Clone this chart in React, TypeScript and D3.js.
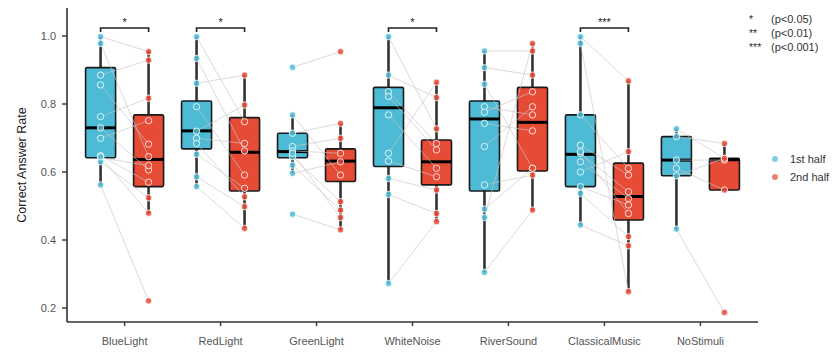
import * as d3 from "d3";

const categories = [
  "BlueLight",
  "RedLight",
  "GreenLight",
  "WhiteNoise",
  "RiverSound",
  "ClassicalMusic",
  "NoStimuli",
];

const halves = ["1st half", "2nd half"];

// per participant, paired by index
const firstHalf = [
  [0.998, 0.978, 0.885, 0.856, 0.763, 0.73, 0.699, 0.648, 0.642, 0.63, 0.645, 0.562],
  [0.998, 0.934, 0.861, 0.792, 0.72, 0.699, 0.684, 0.652, 0.586, 0.557],
  [0.908, 0.768, 0.714, 0.675, 0.662, 0.645, 0.596, 0.62, 0.655, 0.476],
  [0.998, 0.885, 0.836, 0.822, 0.768, 0.655, 0.632, 0.581, 0.534, 0.272],
  [0.956, 0.907, 0.858, 0.792, 0.776, 0.743, 0.675, 0.562, 0.491, 0.466, 0.305],
  [0.998, 0.978, 0.768, 0.679, 0.655, 0.63, 0.557, 0.537, 0.444, 0.66, 0.6],
  [0.727, 0.704, 0.635, 0.611, 0.589, 0.432],
];
const secondHalf = [
  [0.954, 0.645, 0.929, 0.682, 0.817, 0.606, 0.751, 0.57, 0.619, 0.524, 0.479, 0.221],
  [0.748, 0.662, 0.885, 0.591, 0.797, 0.684, 0.527, 0.552, 0.498, 0.434],
  [0.954, 0.591, 0.743, 0.699, 0.655, 0.513, 0.63, 0.488, 0.466, 0.43],
  [0.727, 0.819, 0.684, 0.665, 0.611, 0.864, 0.586, 0.547, 0.478, 0.454],
  [0.956, 0.885, 0.611, 0.768, 0.836, 0.721, 0.792, 0.591, 0.611, 0.978, 0.488],
  [0.868, 0.248, 0.611, 0.591, 0.542, 0.522, 0.503, 0.41, 0.383, 0.478, 0.66],
  [0.64, 0.684, 0.635, 0.547, 0.64, 0.187],
];

// [whisker low, q1, median, q3, whisker high]
const firstBox = [
  [0.562, 0.642, 0.73, 0.907, 0.998],
  [0.557, 0.668, 0.721, 0.809, 0.998],
  [0.596, 0.642, 0.66, 0.714, 0.768],
  [0.272, 0.616, 0.789, 0.849, 0.998],
  [0.305, 0.544, 0.756, 0.809, 0.956],
  [0.444, 0.557, 0.652, 0.768, 0.998],
  [0.432, 0.589, 0.635, 0.704, 0.727],
];
const secondBox = [
  [0.478, 0.557, 0.637, 0.768, 0.956],
  [0.434, 0.544, 0.658, 0.76, 0.885],
  [0.43, 0.572, 0.632, 0.668, 0.743],
  [0.454, 0.562, 0.63, 0.694, 0.864],
  [0.488, 0.603, 0.746, 0.849, 0.978],
  [0.248, 0.459, 0.528, 0.626, 0.868],
  [0.547, 0.547, 0.636, 0.64, 0.684],
];

const sigCategories = ["BlueLight", "RedLight", "WhiteNoise", "ClassicalMusic"];
const sigMarks = ["*", "*", "*", "***"];

const sigLegendMarks = ["*", "**", "***"];
const sigLegendText = ["(p<0.05)", "(p<0.01)", "(p<0.001)"];

const yTicks = [0.2, 0.4, 0.6, 0.8, 1.0];

const colors = ["#4DBBD5", "#E64B35"];

const W = 840;
const H = 354;
const left = 67;
const right = 758;
const top = 8;
const bottom = 322;
const dodge = 24;
const boxW = 30;
const font = "'Liberation Sans', Arial, sans-serif";

export default function App() {
  const x = d3.scalePoint<string>().domain(categories).range([left, right]).padding(0.6);
  const y = d3.scaleLinear().domain([0.2, 1.0]).range([308, 36]);

  const groups = [
    { vals: firstHalf, box: firstBox, off: -dodge, color: colors[0] },
    { vals: secondHalf, box: secondBox, off: dodge, color: colors[1] },
  ];

  return (
    <svg
      width={W}
      height={H}
      style={{ position: "absolute", left: 0, top: 0, background: "#fff" }}
      fontFamily={font}
    >
      {/* boxes */}
      {groups.map((g, gi) =>
        categories.map((c, i) => {
          const [lo, q1, med, q3, hi] = g.box[i];
          const cx = x(c)! + g.off;
          return (
            <g key={`b${gi}-${i}`}>
              <line x1={cx} x2={cx} y1={y(hi)} y2={y(q3)} stroke="#333" strokeWidth={2.6} />
              <line x1={cx} x2={cx} y1={y(q1)} y2={y(lo)} stroke="#333" strokeWidth={2.6} />
              <rect
                x={cx - boxW / 2}
                y={y(q3)}
                width={boxW}
                height={Math.max(0.5, y(q1) - y(q3))}
                fill={g.color}
                stroke="#1a1a1a"
                strokeWidth={1.6}
                rx={1.5}
              />
              <line
                x1={cx - boxW / 2}
                x2={cx + boxW / 2}
                y1={y(med)}
                y2={y(med)}
                stroke="#000"
                strokeWidth={3}
              />
            </g>
          );
        })
      )}

      {/* paired lines */}
      {categories.map((c, i) =>
        firstHalf[i].map((v, k) => (
          <line
            key={`l${i}-${k}`}
            x1={x(c)! - dodge}
            x2={x(c)! + dodge}
            y1={y(v)}
            y2={y(secondHalf[i][k])}
            stroke="#c8c8c8"
            strokeWidth={0.8}
            opacity={0.8}
          />
        ))
      )}

      {/* points */}
      {groups.map((g, gi) =>
        categories.map((c, i) =>
          g.vals[i].map((v, k) => (
            <circle
              key={`p${gi}-${i}-${k}`}
              cx={x(c)! + g.off}
              cy={y(v)}
              r={3.2}
              fill={g.color}
              fillOpacity={0.85}
              stroke="#fff"
              strokeOpacity={0.8}
              strokeWidth={1}
            />
          ))
        )
      )}

      {/* significance brackets */}
      {sigCategories.map((c, i) => {
        const x1 = x(c)! - dodge;
        const x2 = x(c)! + dodge;
        const yb = y(1.0235);
        return (
          <g key={`s${i}`}>
            <path
              d={`M${x1},${yb + 4}V${yb}H${x2}V${yb + 4}`}
              fill="none"
              stroke="#222"
              strokeWidth={1.6}
            />
            <text x={x(c)!} y={yb - 2} textAnchor="middle" fontSize={11} fill="#222">
              {sigMarks[i]}
            </text>
          </g>
        );
      })}

      {/* axes */}
      <line x1={left} x2={left} y1={top} y2={bottom} stroke="#333" strokeWidth={1.6} />
      <line x1={left} x2={right} y1={bottom} y2={bottom} stroke="#333" strokeWidth={1.6} />
      {yTicks.map((t) => (
        <g key={`yt${t}`}>
          <line x1={left - 5} x2={left} y1={y(t)} y2={y(t)} stroke="#333" strokeWidth={1.4} />
          <text x={left - 11} y={y(t)} dy="0.35em" textAnchor="end" fontSize={11} fill="#555">
            {d3.format(".1f")(t)}
          </text>
        </g>
      ))}
      {categories.map((c) => (
        <g key={`xt${c}`}>
          <line x1={x(c)!} x2={x(c)!} y1={bottom} y2={bottom + 4} stroke="#333" strokeWidth={1.4} />
          <text x={x(c)!} y={341} dy="0.35em" textAnchor="middle" fontSize={11} fill="#555">
            {c}
          </text>
        </g>
      ))}
      <text
        transform={`translate(22,${(top + bottom) / 2}) rotate(-90)`}
        textAnchor="middle"
        dy="0.35em"
        fontSize={12.5}
        fill="#222"
      >
        Correct Answer Rate
      </text>

      {/* significance legend */}
      {sigLegendMarks.map((m, i) => (
        <g key={`sl${i}`}>
          <text x={749} y={19 + i * 14} dy="0.35em" fontSize={10.5} fill="#333">
            {m}
          </text>
          <text x={771} y={19 + i * 14} dy="0.35em" fontSize={11} fill="#333">
            {sigLegendText[i]}
          </text>
        </g>
      ))}

      {/* legend */}
      {halves.map((h, i) => (
        <g key={`lg${i}`}>
          <circle cx={775} cy={159 + i * 18} r={3} fill={colors[i]} opacity={0.7} />
          <text x={790} y={159 + i * 18} dy="0.35em" fontSize={11} fill="#333">
            {h}
          </text>
        </g>
      ))}
    </svg>
  );
}
